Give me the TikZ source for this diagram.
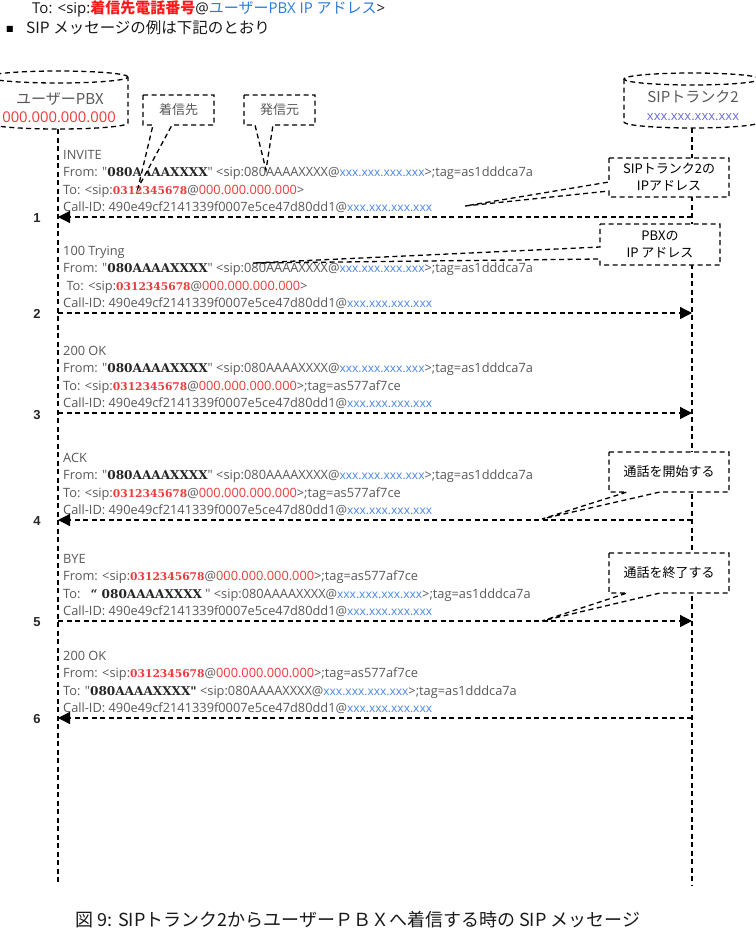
\documentclass[tikz,border=0pt]{standalone}
\usepackage{fontspec}
\newfontfamily\osans{Open Sans}
\newfontfamily\jp{Noto Sans CJK JP}
\newfontfamily\srf{DejaVu Serif}
\newfontfamily\numf{Liberation Sans}
\newfontfamily\symf{DejaVu Sans}
\usetikzlibrary{arrows.meta}
\definecolor{txtgray}{HTML}{595959}
\definecolor{ired}{HTML}{EE3B3B}
\definecolor{hred}{HTML}{FF1A1A}
\definecolor{iblue}{HTML}{4A86E8}
\definecolor{cblue}{HTML}{6B6BE0}
\definecolor{hblue}{HTML}{2F7BDA}
\newcommand\Sv[1]{{\srf\bfseries\fontsize{12.1bp}{14bp}\selectfont\color{black!85}#1}}
\newcommand\Rp[1]{{\srf\bfseries\fontsize{10.7bp}{14bp}\selectfont\color{ired}#1}}
\newcommand\Ri[1]{{\color{ired}#1}}
\newcommand\Bx[1]{{\fontsize{12bp}{14bp}\selectfont\color{iblue}#1}}
\newcommand\CallID{Call-ID: 490e49cf2141339f0007e5ce47d80dd1@\Bx{xxx.xxx.xxx.xxx}}
\newcommand\FromA{From: "\Sv{080AAAAXXXX}" <sip:080AAAAXXXX@\Bx{xxx.xxx.xxx.xxx}>;tag=as1dddca7a}
\newcommand\msgblock[6]{%
  \node[msgtxt] (#1t) at (63,#2-57.5) {#3};
  \node[msgtxt] (#1f) at (63,#2-40.5) {#4};
  \node[msgtxt] (#1o) at (63,#2-23) {#5};
  \node[msgtxt] (#1c) at (63,#2-5.5) {#6};
}
\begin{document}
\begin{tikzpicture}[x=1bp,y=-1bp,
  dsh/.style={draw=black, line width=1.3bp, dash pattern=on 5bp off 3.5bp},
  msg/.style={dsh, -{Triangle[length=12bp,width=12bp]}},
  msgtxt/.style={anchor=base west, inner sep=0pt, text=txtgray, font=\osans\fontsize{12.8bp}{15bp}\selectfont},
  num/.style={font=\numf\bfseries\fontsize{13bp}{15bp}\selectfont, text=black!85, inner sep=0pt},
  ctext/.style={font=\jp\fontsize{13bp}{17bp}\selectfont, align=center, inner sep=0pt},
  callout/.style={dsh, fill=white},
]
\useasboundingbox (0,0) rectangle (756,933);
\clip (0,0) rectangle (756,933);
\fill[white] (0,0) rectangle (756,933);

% header
\node[anchor=west, inner sep=0pt, text=black!90, font=\osans\fontsize{15bp}{18bp}\selectfont] (h1) at (32,9)
  {To: <sip:{\jp\bfseries\color{hred}着信先電話番号}@{\color{hblue}{\jp ユーザー}PBX IP {\jp アドレス}}>};
\node[anchor=west, inner sep=0pt, font=\symf\fontsize{8bp}{10bp}\selectfont] (bul) at (6,29) {■};
\node[anchor=west, inner sep=0pt, text=black!90, font=\jp\fontsize{15.5bp}{18bp}\selectfont] (h2) at (26,28)
  {SIP メッセージの例は下記のとおり};

% lifelines
\coordinate (Ltop) at (58,129);
\coordinate (Lbot) at (58,885);
\coordinate (Rtop) at (692,128);
\coordinate (Rbot) at (692,885);
\draw[dsh] (Ltop) -- (Lbot);
\draw[dsh] (Rtop) -- (Rbot);

% cylinders
\draw[dsh, fill=white] (-12,77) -- (-12,123) arc[start angle=180, end angle=360, x radius=70bp, y radius=6bp] -- (128,77);
\draw[dsh] (58,77) ellipse [x radius=70bp, y radius=6bp];
\node[inner sep=0pt, text=txtgray, font=\jp\fontsize{15bp}{18bp}\selectfont] (pbx) at (60,99) {ユーザーPBX};
\node[inner sep=0pt, text=ired, font=\osans\fontsize{14.8bp}{18bp}\selectfont] (pbxip) at (59,117) {000.000.000.000};

\draw[dsh, fill=white] (624,79) -- (624,122) arc[start angle=180, end angle=360, x radius=68bp, y radius=6bp] -- (760,79);
\draw[dsh] (692,79) ellipse [x radius=68bp, y radius=6bp];
\node[inner sep=0pt, text=txtgray, font=\jp\fontsize{15bp}{18bp}\selectfont] (trk) at (693,97) {SIPトランク2};
\node[inner sep=0pt, text=cblue, font=\osans\fontsize{13bp}{15bp}\selectfont] (trkip) at (693,117) {xxx.xxx.xxx.xxx};

% message texts
\msgblock{m1}{217}{INVITE}{\FromA}{To: <sip:\Rp{0312345678}@\Ri{000.000.000.000}>}{\CallID}
\msgblock{m2}{313}{100 Trying}{\FromA}{\ To: <sip:\Rp{0312345678}@\Ri{000.000.000.000}>}{\CallID}
\msgblock{m3}{413}{200 OK}{\FromA}{To: <sip:\Rp{0312345678}@\Ri{000.000.000.000}>;tag=as577af7ce}{\CallID}
\msgblock{m4}{520}{ACK}{\FromA}{To: <sip:\Rp{0312345678}@\Ri{000.000.000.000}>;tag=as577af7ce}{\CallID}
\msgblock{m5}{621}{BYE}{From: <sip:\Rp{0312345678}@\Ri{000.000.000.000}>;tag=as577af7ce}{To:\hspace{10bp}\Sv{“\ 080AAAAXXXX}\ "\ <sip:080AAAAXXXX@\Bx{xxx.xxx.xxx.xxx}>;tag=as1dddca7a}{\CallID}
\msgblock{m6}{718}{200 OK}{From: <sip:\Rp{0312345678}@\Ri{000.000.000.000}>;tag=as577af7ce}{To: "\Sv{080AAAAXXXX"}\ <sip:080AAAAXXXX@\Bx{xxx.xxx.xxx.xxx}>;tag=as1dddca7a}{\CallID}

% callouts
\draw[callout] (143,95) -- (214,95) -- (214,125) -- (172,125) -- (138,188) -- (153,125) -- (143,125) -- cycle;
\node[ctext, text=txtgray] (c1) at (178.5,110) {着信先};
\draw[callout] (244,95) -- (315,95) -- (315,125) -- (273,125) -- (266,170) -- (255,125) -- (244,125) -- cycle;
\node[ctext, text=txtgray] (c2) at (279.5,110) {発信元};
\draw[callout] (609,158) -- (729,158) -- (729,197) -- (609,197) -- (609,191) -- (465,206) -- (609,182) -- cycle;
\node[ctext] (c3) at (669,177.5) {SIPトランク2の\\IPアドレス};
\draw[callout] (600,224) -- (720,224) -- (720,265) -- (600,265) -- (600,259) -- (253,263) -- (600,247) -- cycle;
\node[ctext] (c4) at (660,244.5) {PBXの\\IP アドレス};
\draw[callout] (609,452) -- (729,452) -- (729,492) -- (660,492) -- (542,519) -- (627,492) -- (609,492) -- cycle;
\node[ctext] (c5) at (669,472) {通話を開始する};
\draw[callout] (609,553) -- (729,553) -- (729,593) -- (660,593) -- (542,621) -- (627,593) -- (609,593) -- cycle;
\node[ctext] (c6) at (669,573) {通話を終了する};

% arrows
\coordinate (L1) at (58,217); \coordinate (R1) at (692,217);
\coordinate (L2) at (58,313); \coordinate (R2) at (692,313);
\coordinate (L3) at (58,413); \coordinate (R3) at (692,413);
\coordinate (L4) at (58,520); \coordinate (R4) at (692,520);
\coordinate (L5) at (58,621); \coordinate (R5) at (692,621);
\coordinate (L6) at (58,718); \coordinate (R6) at (692,718);
\draw[msg] (R1) -- (L1);
\draw[msg] (L2) -- (R2);
\draw[msg] (L3) -- (R3);
\draw[msg] (R4) -- (L4);
\draw[msg] (L5) -- (R5);
\draw[msg] (R6) -- (L6);
\node[num] (n1) at (37,218) {1};
\node[num] (n2) at (37,314) {2};
\node[num] (n3) at (37,415) {3};
\node[num] (n4) at (37,521) {4};
\node[num] (n5) at (37,622) {5};
\node[num] (n6) at (37,719) {6};

% caption
\node[inner sep=0pt, text=black!90, font=\jp\fontsize{18bp}{20bp}\selectfont] (cap) at (358,920)
  {図 9: SIPトランク2からユーザーＰＢＸへ着信する時の SIP メッセージ};
\end{tikzpicture}
\end{document}
